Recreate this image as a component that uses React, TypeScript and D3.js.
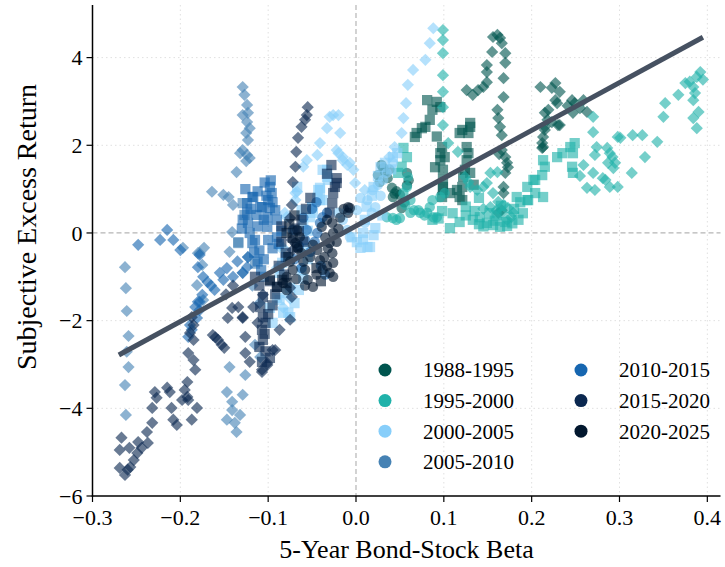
import React from "react";
import * as d3 from "d3";

type XY = [number, number];

const periods = ["1988-1995", "1995-2000", "2000-2005", "2005-2010", "2010-2015", "2015-2020", "2020-2025"];
const periodColors = ["#00554f", "#20b2aa", "#87cefa", "#4682b4", "#1666b0", "#0b2850", "#02172e"];

const xTicks = [-0.3, -0.2, -0.1, 0, 0.1, 0.2, 0.3, 0.4];
const yTicks = [-6, -4, -2, 0, 2, 4];

// fitted line (OLS of return on beta)
const fitSlope = 10.9;
const fitIntercept = 0.16;
const fitFrom = -0.27;
const fitTo = 0.395;

// 1988-1995
const d1988: XY[] = [[0.126,3.26],[0.133,3.15],[0.139,3.26],[0.145,3.33],[0.149,3.44],[0.149,3.67],[0.149,3.83],[0.155,4.13],[0.156,4.47],[0.161,4.52],[0.164,4.45],[0.166,4.33],[0.170,4.10],[0.170,3.88],[0.168,3.53],[0.168,3.10],[0.161,2.81],[0.162,2.62],[0.164,2.42],[0.166,2.23],[0.166,1.89],[0.170,1.73],[0.172,1.60],[0.170,1.37],[0.168,1.05],[0.168,0.91],[0.166,0.52],[0.162,0.46],[0.173,1.50],[0.163,1.80],[0.210,3.33],[0.223,3.31],[0.227,3.42],[0.232,3.22],[0.227,3.03],[0.229,2.96],[0.219,2.81],[0.215,2.74],[0.218,2.58],[0.223,2.53],[0.232,2.46],[0.215,2.35],[0.213,2.19],[0.212,2.05],[0.212,1.94],[0.215,2.42],[0.213,1.96],[0.246,3.03],[0.249,2.96],[0.255,2.85],[0.259,3.03],[0.263,2.76],[0.247,2.74],[0.241,2.90],[0.230,2.46]];
const s1988: XY[] = [[0.081,3.03],[0.092,2.99],[0.087,2.81],[0.079,2.42],[0.069,2.28],[0.067,2.19],[0.075,2.39],[0.084,2.58],[0.096,2.87],[0.096,1.82],[0.096,1.66],[0.099,1.21],[0.099,0.98],[0.098,1.96],[0.101,1.73],[0.099,1.44],[0.099,1.05],[0.098,0.82],[0.092,2.20],[0.090,1.50],[0.121,2.35],[0.128,2.28],[0.130,2.51],[0.126,1.96],[0.128,1.82],[0.126,1.66],[0.124,1.44],[0.122,1.28],[0.121,1.05],[0.118,0.82],[0.115,0.98],[0.107,0.91],[0.121,0.75],[0.130,1.37],[0.130,2.42],[0.118,2.28],[0.134,1.10]];
const o1988: XY[] = [[0.031,1.48],[0.025,1.32],[0.027,1.16],[0.036,1.25],[0.041,1.03],[0.042,0.82],[0.058,1.37],[0.058,1.09],[0.050,0.87],[0.052,0.57],[0.033,1.40],[0.046,0.95],[0.029,1.55],[0.038,1.45],[0.044,0.90],[0.055,0.70],[0.060,1.20]];

// 1995-2000
const d1995: XY[] = [[0.099,4.63],[0.099,4.40],[0.099,4.10],[0.099,3.60],[0.099,3.22],[0.099,2.87],[0.099,2.46],[0.105,2.05],[0.116,1.85],[0.124,1.28],[0.128,1.16],[0.130,1.05],[0.138,0.98],[0.145,1.05],[0.149,1.14],[0.153,1.37],[0.161,1.39],[0.156,0.91],[0.162,0.71],[0.168,0.64],[0.173,0.57],[0.179,0.46],[0.166,0.46],[0.172,0.30],[0.177,0.36],[0.153,0.59],[0.160,0.52],[0.145,0.55],[0.270,2.65],[0.270,2.30],[0.274,1.96],[0.272,1.78],[0.270,1.37],[0.263,1.03],[0.272,0.98],[0.284,1.21],[0.286,1.94],[0.292,1.73],[0.295,1.60],[0.298,2.19],[0.298,1.05],[0.289,1.05],[0.281,1.25],[0.287,1.60],[0.289,1.82],[0.293,1.48],[0.301,2.17],[0.315,2.23],[0.326,2.23],[0.343,2.08],[0.329,1.73],[0.314,1.37],[0.350,2.65],[0.352,2.96],[0.367,3.15],[0.375,3.42],[0.384,3.33],[0.388,3.56],[0.392,3.67],[0.386,3.19],[0.384,2.62],[0.390,2.76],[0.388,2.39],[0.384,3.03],[0.380,3.45],[0.395,3.50],[0.255,1.30],[0.259,1.55]];
const s1995: XY[] = [[0.087,0.30],[0.094,0.33],[0.107,0.11],[0.133,0.30],[0.054,1.94],[0.058,1.73],[0.052,1.51],[0.048,1.37],[0.149,0.23],[0.156,0.18],[0.164,0.14],[0.172,0.16],[0.141,0.36],[0.183,0.82],[0.187,0.70],[0.195,0.75],[0.204,0.91],[0.204,1.21],[0.213,1.66],[0.215,1.51],[0.212,1.32],[0.229,1.73],[0.235,1.82],[0.244,1.96],[0.249,2.05],[0.247,1.82],[0.246,1.51],[0.247,1.37],[0.202,1.21],[0.195,1.05],[0.196,0.75],[0.213,0.82],[0.098,0.50],[0.110,0.45],[0.125,0.60],[0.140,0.80],[0.140,0.20],[0.145,0.15],[0.158,0.28],[0.160,0.40],[0.170,0.25],[0.178,0.22],[0.185,0.30],[0.180,0.55],[0.190,0.45],[0.118,0.25],[0.125,0.40],[0.135,0.50],[0.152,0.45],[0.165,0.62]];
const o1995: XY[] = [[0.035,0.36],[0.042,0.34],[0.050,0.34],[0.062,0.46],[0.071,0.52],[0.081,0.46],[0.088,0.36],[0.087,0.75],[0.096,0.82],[0.101,0.91],[0.058,1.05],[0.059,1.28],[0.062,0.75],[0.054,0.91],[0.056,0.64],[0.066,0.52],[0.073,0.46],[0.084,0.59],[0.092,0.36],[0.078,0.40],[0.046,0.30]];

// 2000-2005
const d2000: XY[] = [[0.088,4.67],[0.084,4.33],[0.079,3.95],[0.065,3.72],[0.059,3.38],[0.057,2.96],[0.054,2.62],[0.052,2.28],[0.044,1.96],[0.038,1.73],[-0.026,2.69],[-0.020,2.69],[-0.030,2.65],[-0.033,2.39],[-0.018,2.28],[-0.041,2.05],[-0.044,1.78],[-0.056,1.66],[-0.060,1.51],[-0.020,1.82],[-0.015,1.66],[-0.007,1.60],[-0.003,1.44],[-0.001,1.14],[0.010,0.98],[-0.067,0.94],[-0.069,0.75],[-0.081,0.46],[-0.079,0.36],[-0.083,-0.34],[-0.087,-0.32],[-0.022,1.89],[-0.015,1.73],[-0.010,1.55],[-0.069,0.91],[-0.090,-0.80],[-0.083,-1.70],[-0.075,-1.50]];
const s2000: XY[] = [[-0.033,1.44],[-0.032,1.21],[-0.043,0.98],[-0.041,0.75],[-0.049,0.46],[-0.052,0.36],[0.008,0.0],[0.016,-0.32],[0.005,-0.34],[-0.038,1.44],[-0.033,1.28],[-0.041,1.03],[-0.050,0.59],[-0.044,0.80],[0.033,1.60],[0.042,1.73],[0.047,1.82],[0.022,0.11],[0.013,-0.32],[0.001,-0.21],[-0.090,-1.48],[-0.079,-1.37],[-0.083,-1.82],[-0.075,-1.92],[-0.095,-2.05],[-0.067,1.05],[-0.062,0.52],[-0.050,0.59],[-0.041,0.98],[-0.038,0.75],[-0.084,-0.68],[-0.087,-0.91],[-0.087,-1.53],[-0.077,-1.82],[-0.075,-1.25],[-0.098,-1.71],[-0.060,0.20],[-0.055,0.05],[0.030,0.40],[0.040,1.45],[0.010,0.30],[0.012,0.60],[0.018,0.85],[0.020,1.05],[0.025,1.30],[0.028,1.50],[-0.005,-0.10],[0.008,-0.15],[0.020,-0.05],[-0.060,-1.05],[-0.065,-1.30],[-0.070,-1.60],[-0.062,-0.85],[-0.055,-0.60],[-0.058,-0.35]];
const o2000: XY[] = [[0.013,0.75],[0.019,0.98],[0.022,0.59],[0.018,0.46],[0.010,0.23],[0.001,0.52],[0.035,1.37],[0.031,1.21],[0.042,1.60],[-0.010,0.52],[-0.015,0.30],[-0.010,0.07],[-0.007,-0.09],[-0.020,0.46],[0.005,0.80],[0.025,1.10],[0.028,0.85]];

// 2005-2010
const d2005: XY[] = [[-0.129,3.33],[-0.127,3.15],[-0.124,2.92],[-0.123,2.74],[-0.129,2.69],[-0.124,2.53],[-0.121,2.39],[-0.125,2.28],[-0.123,2.12],[-0.129,1.89],[-0.124,1.78],[-0.132,1.82],[-0.125,1.64],[-0.121,1.71],[-0.136,1.39],[-0.164,0.94],[-0.151,0.87],[-0.145,0.82],[-0.140,0.64],[-0.141,0.02],[-0.197,-0.34],[-0.178,-0.46],[-0.173,-0.34],[-0.144,-0.43],[-0.263,-0.78],[-0.262,-1.26],[-0.261,-1.78],[-0.259,-2.35],[-0.261,-2.71],[-0.259,-3.06],[-0.263,-3.47],[-0.262,-4.15],[-0.144,-3.06],[-0.147,-3.63],[-0.141,-3.85],[-0.129,-3.69],[-0.141,-4.04],[-0.147,-4.26],[-0.138,-4.33],[-0.132,-4.15],[-0.136,-4.54],[-0.126,-3.24],[-0.115,-2.55],[-0.109,-2.83],[-0.180,-0.46],[-0.175,-0.73],[-0.181,-1.19],[-0.174,-1.53],[-0.123,-0.55],[-0.129,-0.91],[-0.118,-1.20],[-0.110,-1.60]];
const s2005: XY[] = [[-0.134,-0.21],[-0.127,0.41],[-0.129,0.68],[-0.134,-0.23],[-0.115,-0.70],[-0.105,-1.00]];
const o2005: XY[] = [];

// 2010-2015
const d2010: XY[] = [[-0.248,-0.27],[-0.223,-0.16],[-0.215,0.07],[-0.208,-0.16],[-0.200,-0.39],[-0.178,-0.50],[-0.180,-0.78],[-0.174,-1.00],[-0.169,-1.12],[-0.161,-1.30],[-0.178,-1.57],[-0.183,-1.69],[-0.155,-0.91],[-0.147,-0.80],[-0.151,-1.07],[-0.140,-1.00],[-0.129,-0.91],[-0.124,-0.78],[-0.123,-0.55],[-0.181,-1.94],[-0.178,-1.76],[-0.180,-1.57],[-0.175,-1.41],[-0.189,-2.10],[-0.187,-2.21],[-0.191,-2.37],[-0.165,-1.20],[-0.135,-0.65]];
const s2010: XY[] = [[-0.098,1.05],[-0.096,0.91],[-0.100,0.75],[-0.098,0.57],[-0.092,0.52],[-0.101,0.36],[-0.109,0.59],[-0.113,0.41],[-0.118,0.82],[-0.124,0.68],[-0.124,0.46],[-0.123,0.23],[-0.121,0.0],[-0.118,-0.23],[-0.101,0.14],[-0.100,-0.16],[-0.117,0.82],[-0.107,0.59],[-0.129,0.30],[-0.115,-0.16],[-0.110,-0.40],[-0.105,-0.60],[-0.095,-0.35],[-0.090,-0.10],[-0.105,0.30],[-0.097,1.20],[-0.112,0.95],[-0.104,1.15],[-0.102,0.85],[-0.112,0.15],[-0.116,-0.45],[-0.112,-0.65],[-0.108,-0.85],[-0.120,0.55],[-0.095,0.70],[-0.090,0.30],[-0.085,0.05],[-0.088,-0.25],[-0.080,-0.55],[-0.126,1.00],[-0.130,0.10]];
const o2010: XY[] = [[-0.038,0.36],[-0.041,0.23],[-0.044,0.0],[-0.056,0.07],[-0.058,-0.16],[-0.052,-0.43],[-0.033,0.46],[-0.072,0.07],[-0.065,-0.30],[-0.070,-0.60],[-0.047,-0.20],[-0.062,-0.80],[-0.060,0.35],[-0.050,0.55],[-0.045,0.70],[-0.040,-0.75],[-0.035,-0.95]];

// 2015-2020
const d2015: XY[] = [[-0.267,-4.67],[-0.269,-4.95],[-0.269,-5.36],[-0.263,-5.52],[-0.257,-5.34],[-0.253,-5.18],[-0.248,-4.77],[-0.249,-5.02],[-0.238,-4.54],[-0.237,-4.79],[-0.232,-4.33],[-0.232,-3.99],[-0.229,-3.63],[-0.227,-3.76],[-0.215,-3.53],[-0.212,-3.63],[-0.210,-3.99],[-0.208,-4.26],[-0.204,-4.38],[-0.198,-3.81],[-0.195,-3.58],[-0.192,-3.40],[-0.192,-3.74],[-0.191,-3.81],[-0.187,-4.26],[-0.181,-3.99],[-0.183,-3.12],[-0.185,-2.90],[-0.191,-2.74],[-0.185,-2.44],[-0.189,-2.28],[-0.185,-2.10],[-0.187,-1.92],[-0.260,-5.40],[-0.258,-4.90],[-0.244,-4.90],[-0.163,-2.33],[-0.157,-2.44],[-0.153,-2.55],[-0.160,-2.38],[-0.150,-2.62],[-0.055,2.87],[-0.056,2.69],[-0.058,2.58],[-0.062,2.42],[-0.066,2.17],[-0.068,1.85],[-0.069,1.51],[-0.072,1.16],[-0.073,0.64],[-0.075,0.34],[-0.073,-0.16],[-0.072,-0.39],[-0.126,-2.37],[-0.126,-2.74],[-0.121,-2.94],[-0.107,-3.12],[-0.101,-3.01],[-0.095,-2.67],[-0.087,-2.21],[-0.075,-1.98],[-0.073,-1.46],[-0.075,-1.25],[-0.106,-1.41],[-0.112,-2.05],[-0.129,-1.92],[-0.117,-1.69],[-0.146,-1.94],[-0.141,-1.71],[-0.134,-1.69],[-0.129,-1.94],[-0.092,-2.67],[-0.101,-2.97],[-0.107,-3.17],[-0.148,-1.40],[-0.140,-1.20]];
const s2015: XY[] = [[-0.022,1.14],[-0.026,0.91],[-0.027,0.68],[-0.030,0.46],[-0.022,1.25],[-0.024,1.05],[-0.106,-1.46],[-0.109,-1.69],[-0.106,-1.92],[-0.107,-2.21],[-0.106,-2.44],[-0.110,-2.60],[-0.107,-2.94],[-0.110,-1.20],[-0.115,-1.00],[-0.090,-1.23],[-0.098,-1.10],[-0.060,-0.20],[-0.070,0.10],[-0.085,-0.20],[-0.080,-0.45],[-0.088,-0.75],[-0.082,-0.95],[-0.092,-1.40],[-0.095,-1.65],[-0.100,-1.85],[-0.103,-2.05],[-0.104,-2.30],[-0.103,-2.70],[-0.098,-2.85],[-0.062,0.30],[-0.057,0.55],[-0.052,0.80],[-0.033,1.35],[-0.028,1.55],[-0.065,0.05],[-0.085,0.15]];
const o2015: XY[] = [];

// 2020-2025
const d2020: XY[] = [];
const s2020: XY[] = [[-0.079,0.0],[-0.072,-0.11],[-0.067,-0.32],[-0.077,-0.55],[-0.084,-1.07],[-0.079,-1.14],[-0.090,-1.23],[-0.098,-1.07],[-0.070,0.40],[-0.076,0.20],[-0.045,-0.80],[-0.040,-1.10]];
const o2020: XY[] = [[-0.007,0.57],[-0.009,0.46],[-0.027,0.23],[-0.026,0.0],[-0.030,-0.23],[-0.027,-0.46],[-0.026,-0.68],[-0.030,-0.91],[-0.026,-1.00],[-0.038,-0.84],[-0.041,-0.62],[-0.044,-0.39],[-0.049,-0.27],[-0.052,-0.55],[-0.039,0.14],[-0.033,0.30],[-0.064,-0.09],[-0.067,0.07],[-0.069,-0.23],[-0.062,-0.46],[-0.072,-0.84],[-0.079,-1.00],[-0.083,-1.14],[-0.079,-1.30],[-0.049,-1.23],[-0.055,-1.07],[-0.058,-0.84],[-0.009,0.59],[-0.035,-0.10],[-0.032,-0.35],[-0.036,-0.55],[-0.033,-0.75],[-0.022,-0.20],[-0.020,0.10],[-0.018,0.35],[-0.014,0.55],[-0.045,-0.95],[-0.060,-0.65],[-0.066,-0.35],[-0.058,-1.20],[-0.068,-1.05],[-0.075,-0.65]];

const diamonds = [d1988, d1995, d2000, d2005, d2010, d2015, d2020];
const squares = [s1988, s1995, s2000, s2005, s2010, s2015, s2020];
const circles = [o1988, o1995, o2000, o2005, o2010, o2015, o2020];

const W = 725;
const H = 567;
const font = "'Liberation Serif', 'Times New Roman', serif";

export default function App() {
  const x = d3.scaleLinear().domain([-0.3, 0.415]).range([92.5, 720.5]);
  const y = d3.scaleLinear().domain([-6, 5.2]).range([496, 5]);

  const diamondPath = d3.symbol().type(d3.symbolDiamond2).size(95)() as string;
  const squarePath = d3.symbol().type(d3.symbolSquare).size(105)() as string;
  const circlePath = d3.symbol().type(d3.symbolCircle).size(85)() as string;

  const fitLine = d3
    .line<number>()
    .x((v) => x(v))
    .y((v) => y(fitIntercept + fitSlope * v));

  const fmt = (v: number) => (v < 0 ? "\u2212" : "") + Math.abs(v).toFixed(1);
  const fmtY = (v: number) => (v < 0 ? "\u2212" : "") + Math.abs(v);

  const [x0, x1] = x.range();
  const [y0, y1] = y.range();

  return (
    <svg width={W} height={H} style={{ position: "absolute", left: 0, top: 0, background: "#fff" }} fontFamily={font}>
      {/* grid */}
      {xTicks.filter((t) => t !== 0 && t !== -0.3).map((t) => (
        <line key={"gx" + t} x1={x(t)} x2={x(t)} y1={y1} y2={y0} stroke="#e0e0e0" strokeWidth={1} strokeDasharray="1.5,3" />
      ))}
      {yTicks.filter((t) => t !== 0 && t !== -6).map((t) => (
        <line key={"gy" + t} x1={x0} x2={x1} y1={y(t)} y2={y(t)} stroke="#e0e0e0" strokeWidth={1} strokeDasharray="1.5,3" />
      ))}
      <line x1={x(0)} x2={x(0)} y1={y1} y2={y0} stroke="#b5b5b5" strokeWidth={1.2} strokeDasharray="5,3" />
      <line x1={x0} x2={x1} y1={y(0)} y2={y(0)} stroke="#b5b5b5" strokeWidth={1.2} strokeDasharray="5,3" />

      {/* points */}
      {periods.map((p, i) => (
        <g key={p} fill={periodColors[i]} fillOpacity={0.62}>
          {diamonds[i].map((d, j) => (
            <path key={"d" + j} d={diamondPath} transform={`translate(${x(d[0])},${y(d[1])})`} />
          ))}
          {squares[i].map((d, j) => (
            <path key={"s" + j} d={squarePath} transform={`translate(${x(d[0])},${y(d[1])})`} />
          ))}
          {circles[i].map((d, j) => (
            <path key={"o" + j} d={circlePath} transform={`translate(${x(d[0])},${y(d[1])})`} />
          ))}
        </g>
      ))}

      {/* fit */}
      <path d={fitLine([fitFrom, fitTo]) as string} stroke="#465161" strokeWidth={5} fill="none" />

      {/* axes */}
      <line x1={x0} x2={x0} y1={y1} y2={y0 + 0.75} stroke="#000" strokeWidth={1.5} />
      <line x1={x0 - 0.75} x2={x1} y1={y0} y2={y0} stroke="#000" strokeWidth={1.5} />
      {xTicks.map((t) => (
        <g key={"xt" + t}>
          <line x1={x(t)} x2={x(t)} y1={y0} y2={y0 + 6} stroke="#000" strokeWidth={1.2} />
          <text x={x(t)} y={y0 + 29} textAnchor="middle" fontSize={22}>{fmt(t)}</text>
        </g>
      ))}
      {yTicks.map((t) => (
        <g key={"yt" + t}>
          <line x1={x0 - 6} x2={x0} y1={y(t)} y2={y(t)} stroke="#000" strokeWidth={1.2} />
          <text x={x0 - 10} y={y(t)} dy="0.35em" textAnchor="end" fontSize={22}>{fmtY(t)}</text>
        </g>
      ))}
      <text x={(x0 + x1) / 2} y={H - 9} textAnchor="middle" fontSize={26}>5-Year Bond-Stock Beta</text>
      <text transform={`translate(36,227) rotate(-90)`} textAnchor="middle" fontSize={28}>Subjective Excess Return</text>

      {/* legend */}
      {periods.map((p, i) => {
        const col = i < 4 ? 0 : 1;
        const row = i < 4 ? i : i - 4;
        const lx = 385 + col * 196;
        const ly = 370 + row * 30.6;
        return (
          <g key={"lg" + p}>
            <circle cx={lx} cy={ly} r={6.5} fill={periodColors[i]} />
            <text x={lx + 38} y={ly} dy="0.35em" fontSize={21}>{p}</text>
          </g>
        );
      })}
    </svg>
  );
}
